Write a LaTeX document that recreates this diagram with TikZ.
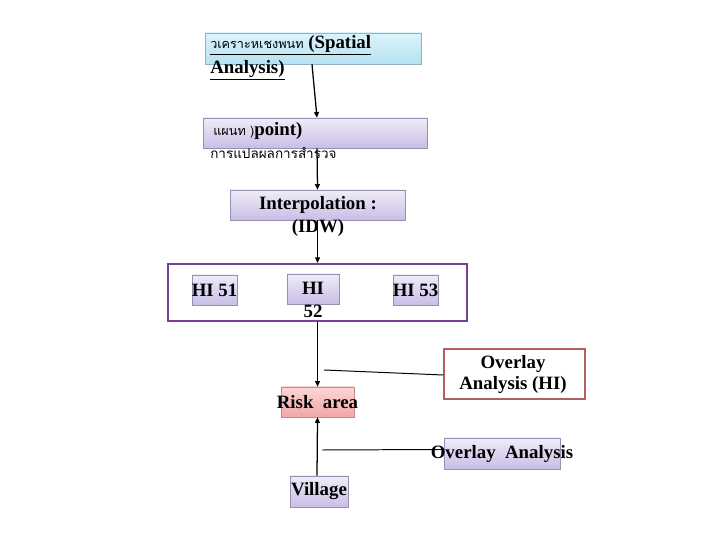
\documentclass[tikz,border=0pt]{standalone}
\usepackage{fontspec}
\setmainfont{Liberation Serif}
\newfontfamily\thaifont[Script=Thai]{Loma}
\usetikzlibrary{arrows.meta}

\definecolor{bluetop}{HTML}{DDF3FB}
\definecolor{bluebot}{HTML}{B4E2F2}
\definecolor{blueline}{HTML}{8FB3C4}
\definecolor{lavtop}{HTML}{F0ECF8}
\definecolor{lavbot}{HTML}{C8BEE6}
\definecolor{lavline}{HTML}{9890B4}
\definecolor{pinktop}{HTML}{FCD6D6}
\definecolor{pinkbot}{HTML}{F2A6A6}
\definecolor{pinkline}{HTML}{C48A8A}
\definecolor{frameline}{HTML}{7A3F98}
\definecolor{hiline}{HTML}{B06060}

\tikzset{
	bluebox/.style={shape=rectangle, draw=blueline, top color=bluetop, bottom color=bluebot},
	lavbox/.style={shape=rectangle, draw=lavline, top color=lavtop, bottom color=lavbot},
	pinkbox/.style={shape=rectangle, draw=pinkline, top color=pinktop, bottom color=pinkbot},
	lbl/.style={inner sep=0pt, font=\bfseries\fontsize{13.4}{16}\selectfont},
	flow/.style={-{Triangle[length=4pt, width=3.5pt]}, line width=0.9pt},
	tie/.style={line width=0.7pt}
}

\begin{document}
\begin{tikzpicture}
		% Paths, nodes and wires:
		\useasboundingbox (0, 0) rectangle (18, 13.5);
		\node[bluebox, minimum width=5.4cm, minimum height=0.775cm] (spatial) at (7.825, 12.288){};
		\node[lbl, anchor=west] (spatialA) at (5.25, 12.375){\underline{{\thaifont\mdseries\fontsize{9}{10}\selectfont วเคราะหเชงพนท} (Spatial}};
		\node[lbl, anchor=west] (spatialB) at (5.25, 11.75){\underline{Analysis)}};
		\node[lavbox, minimum width=5.6cm, minimum height=0.75cm] (point) at (7.875, 10.175){};
		\node[lbl, anchor=west] (pointA) at (5.325, 10.225){{\thaifont\mdseries\fontsize{9}{10}\selectfont แผนท )}point)};
		\node[inner sep=0pt, anchor=west, font=\thaifont\fontsize{9.6}{11}\selectfont] (pointB) at (5.25, 9.675){การแปลผลการสำรวจ};
		\node[lavbox, minimum width=4.375cm, minimum height=0.75cm] (idw) at (7.938, 8.375){};
		\node[lbl] (idwA) at (7.95, 8.375){Interpolation :};
		\node[lbl] (idwB) at (7.95, 7.8){(IDW)};
		\node[shape=rectangle, draw=frameline, line width=1.4pt, minimum width=7.475cm, minimum height=1.425cm] (hi) at (7.938, 6.188){};
		\node[lavbox, minimum width=1.125cm, minimum height=0.75cm] (hi51) at (5.363, 6.25){};
		\node[lbl] (hi51t) at (5.363, 6.25){HI 51};
		\node[lavbox, minimum width=1.3cm, minimum height=0.75cm] (hi52) at (7.825, 6.275){};
		\node[lbl] (hi52t) at (7.825, 6.3){HI};
		\node[lbl] (hi52b) at (7.825, 5.725){52};
		\node[lavbox, minimum width=1.125cm, minimum height=0.75cm] (hi53) at (10.388, 6.25){};
		\node[lbl] (hi53t) at (10.388, 6.25){HI 53};
		\node[pinkbox, minimum width=1.825cm, minimum height=0.75cm] (risk) at (7.938, 3.45){};
		\node[lbl] (riskt) at (7.938, 3.45){Risk\ \ area};
		\node[shape=rectangle, draw=hiline, fill=white, line width=1.1pt, minimum width=3.525cm, minimum height=1.25cm] (ovhi) at (12.863, 4.15){};
		\node[lbl] (ovhiA) at (12.825, 4.4){Overlay};
		\node[lbl] (ovhiB) at (12.825, 3.875){Analysis (HI)};
		\node[lavbox, minimum width=2.9cm, minimum height=0.775cm] (ov) at (12.55, 2.163){};
		\node[lbl] (ovt) at (12.55, 2.15){Overlay\ \ Analysis};
		\node[lavbox, minimum width=1.45cm, minimum height=0.775cm] (village) at (7.975, 1.213){};
		\node[lbl] (villaget) at (7.975, 1.213){Village};
		\coordinate (tieA) at (8.1, 4.25);
		\coordinate (tieB) at (8.05, 2.25);
		\draw[flow] ([xshift=-0.025cm]spatial.south) -- ([xshift=0.05cm]point.north);
		\draw[flow] ([xshift=0.05cm]point.south) -- (idw.north);
		\draw[flow] (idw.south) -- (hi.north);
		\draw[flow] (hi.south) -- (risk.north);
		\draw[flow] ([xshift=-0.05cm]village.north) -- (risk.south);
		\draw[tie] ([yshift=-0.025cm]ovhi.west) -- (tieA);
		\draw[tie] ([yshift=0.1cm]ov.west) -- (tieB);
	\end{tikzpicture}
\end{document}
